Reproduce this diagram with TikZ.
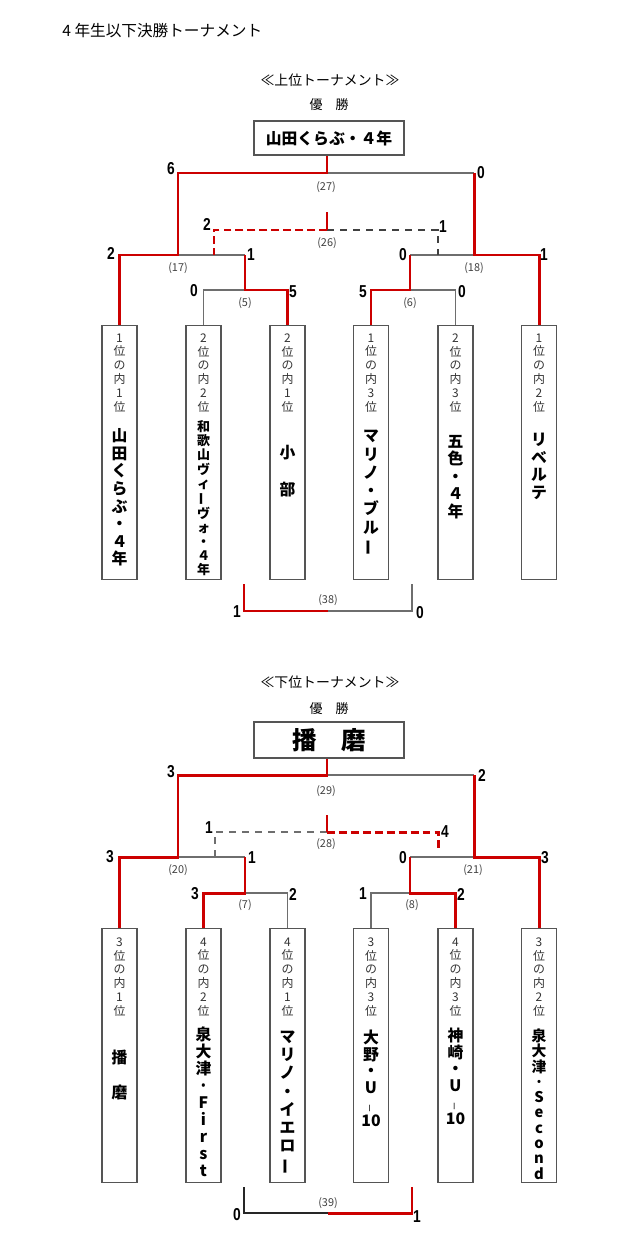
\documentclass[tikz,border=0pt]{standalone}
\usepackage{fontspec}
\usepackage{graphicx}
\setmainfont{Noto Sans CJK JP}
\newfontfamily\scorefont[FakeStretch=0.8]{Liberation Sans}
\definecolor{winred}{RGB}{204,0,0}
\definecolor{losegray}{RGB}{110,110,110}
\definecolor{boxgray}{RGB}{85,85,85}
\def\tatebo{\rotatebox[origin=c]{90}{ー}}
\def\tatehy{\rotatebox[origin=c]{90}{\mdseries\fontsize{4.6}{5}\selectfont ー}}
\tikzset{
  win/.style={draw=winred, line width=1.7pt},
  lose/.style={draw=losegray, line width=0.85pt},
  windash/.style={win, dash pattern=on 4.5pt off 2.3pt},
  losedash/.style={draw=black!75, line width=0.7pt, dash pattern=on 4pt off 3.4pt},
  team/.style={draw=boxgray, line width=0.75pt, minimum width=0.7cm, minimum height=5.08cm, anchor=north, inner sep=0pt},
  champ/.style={draw=boxgray, line width=0.75pt, minimum width=3cm, inner sep=0pt},
  rank/.style={align=center, inner sep=0pt, text=black!80, font=\fontsize{6.8}{7.9}\selectfont},
  tname/.style={align=center, inner sep=0pt, font=\bfseries\fontsize{9}{10}\selectfont},
  score/.style={inner sep=0pt, font=\scorefont\bfseries\fontsize{9.8}{11}\selectfont},
  match/.style={inner sep=0pt, text=black!75, font=\fontsize{6.2}{7}\selectfont},
  head/.style={inner sep=0pt, font=\fontsize{7.9}{9}\selectfont},
}

\begin{document}
\begin{tikzpicture}[x=0.02cm, y=-0.02cm]
		\useasboundingbox (0,0) rectangle (640,1250);
		
		\node[anchor=west, inner sep=0pt, font=\fontsize{8.9}{10}\selectfont] (title) at (62,31) {4 年生以下決勝トーナメント};
		
		%%%%% UPPER %%%%%
		
		\node[head] (uhead) at (330,80) {≪上位トーナメント≫};
		\node[head, font=\fontsize{7.4}{9}\selectfont] (uyusho) at (329,105) {優　勝};
		\node[champ, minimum height=0.68cm, font=\bfseries\fontsize{9}{10}\selectfont] (uwin) at (329,138) {山田くらぶ・４年};
		
		\node[team] (u1) at (119.5,325) {};
		\node[team] (u2) at (203.5,325) {};
		\node[team] (u3) at (287.5,325) {};
		\node[team] (u4) at (371,325) {};
		\node[team] (u5) at (455.5,325) {};
		\node[team] (u6) at (539,325) {};
		
		\node[rank] (u1r) at (119.5,373) {1\\位\\の\\内\\1\\位};
		\node[rank] (u2r) at (203.5,373) {2\\位\\の\\内\\2\\位};
		\node[rank] (u3r) at (287.5,373) {2\\位\\の\\内\\1\\位};
		\node[rank] (u4r) at (371,373) {1\\位\\の\\内\\3\\位};
		\node[rank] (u5r) at (455.5,373) {2\\位\\の\\内\\3\\位};
		\node[rank] (u6r) at (539,373) {1\\位\\の\\内\\2\\位};
		
		\node[tname] (u1n) at (119.5,497.5) {山\\田\\く\\ら\\ぶ\\・\\４\\年};
		\node[tname, font=\bfseries\fontsize{7.4}{8}\selectfont] (u2n) at (203.5,498.5) {和\\歌\\山\\ヴ\\ィ\\\tatebo\\ヴ\\ォ\\・\\４\\年};
		\node[tname, font=\bfseries\fontsize{9}{21}\selectfont] (u3n) at (287.5,471.5) {小\\部};
		\node[tname, font=\bfseries\fontsize{9}{10.4}\selectfont] (u4n) at (371,493) {マ\\リ\\ノ\\・\\ブ\\ル\\\tatebo};
		\node[tname, font=\bfseries\fontsize{9}{9.9}\selectfont] (u5n) at (455.5,477) {五\\色\\・\\４\\年};
		\node[tname] (u6n) at (539,466.5) {リ\\ベ\\ル\\テ};
		
		\coordinate (j5) at (245,290);
		\coordinate (j6) at (410,290);
		\coordinate (j17) at (178,255);
		\coordinate (j18) at (474,255);
		\coordinate (j27) at (327,173);
		\coordinate (t26l) at (214,255);
		\coordinate (t26r) at (438,255);
		\coordinate (c26) at (327,230);
		\coordinate (c26top) at (327,212);
		\coordinate (b38l) at (244,584);
		\coordinate (b38r) at (412,584);
		\coordinate (m38) at (328,611);
		
		\draw[lose] (u2.north) |- (j5);
		\draw[lose] (j5 |- j17) -- (j17);
		\draw[lose] (u5.north) |- (j6);
		\draw[lose] (j6 |- j18) -- (j18);
		\draw[lose] (j27) -- (j18 |- j27);
		\draw[losedash] (c26) -| (t26r);
		\draw[lose] (b38r) |- (m38);
		
		\draw[win] (u1.north) |- (j17) |- (j27) -- (j27 |- uwin.south);
		\draw[win] (u3.north) |- (j5) -- (j5 |- j17);
		\draw[win] (u4.north) |- (j6) -- (j6 |- j18);
		\draw[win] (u6.north) |- (j18) -- (j18 |- j27);
		\draw[windash] (c26) -| (t26l);
		\draw[win] (c26) -- (c26top);
		\draw[win] (b38l) |- (m38);
		
		\node[score] (s27l) at (171,169) {6};
		\node[score] (s27r) at (481,173) {0};
		\node[score] (s26l) at (207,224) {2};
		\node[score] (s26r) at (443,227) {1};
		\node[score] (s17l) at (111,253) {2};
		\node[score] (s17r) at (251,255) {1};
		\node[score] (s18l) at (403,255) {0};
		\node[score] (s18r) at (544,255) {1};
		\node[score] (s5l) at (194,291) {0};
		\node[score] (s5r) at (293,292) {5};
		\node[score] (s6l) at (363,292) {5};
		\node[score] (s6r) at (462,292) {0};
		\node[score] (s38l) at (237,612) {1};
		\node[score] (s38r) at (420,613) {0};
		
		\node[match] (g27) at (326,187) {(27)};
		\node[match] (g26) at (327,243) {(26)};
		\node[match] (g17) at (178,268) {(17)};
		\node[match] (g18) at (474,268) {(18)};
		\node[match] (g5) at (245,303) {(5)};
		\node[match] (g6) at (410,303) {(6)};
		\node[match] (g38) at (328,600) {(38)};
		
		%%%%% LOWER %%%%%
		
		\node[head] (lhead) at (330,682) {≪下位トーナメント≫};
		\node[head, font=\fontsize{7.4}{9}\selectfont] (lyusho) at (329,709) {優　勝};
		\node[champ, minimum height=0.72cm, font=\bfseries\fontsize{14}{16}\selectfont] (lwin) at (329,740) {播　磨};
		
		\node[team] (l1) at (119.5,928) {};
		\node[team] (l2) at (203.5,928) {};
		\node[team] (l3) at (287.5,928) {};
		\node[team] (l4) at (371,928) {};
		\node[team] (l5) at (455.5,928) {};
		\node[team] (l6) at (539,928) {};
		
		\node[rank] (l1r) at (119.5,977) {3\\位\\の\\内\\1\\位};
		\node[rank] (l2r) at (203.5,977) {4\\位\\の\\内\\2\\位};
		\node[rank] (l3r) at (287.5,977) {4\\位\\の\\内\\1\\位};
		\node[rank] (l4r) at (371,977) {3\\位\\の\\内\\3\\位};
		\node[rank] (l5r) at (455.5,977) {4\\位\\の\\内\\3\\位};
		\node[rank] (l6r) at (539,977) {3\\位\\の\\内\\2\\位};
		
		\node[tname, font=\bfseries\fontsize{9}{20.4}\selectfont] (l1n) at (119.5,1075) {播\\磨};
		\node[tname, font=\bfseries\fontsize{9}{9.7}\selectfont] (l2n) at (203.5,1101.5) {泉\\大\\津\\·\\F\\i\\r\\s\\t};
		\node[tname, font=\bfseries\fontsize{9}{10.4}\selectfont] (l3n) at (287.5,1102.5) {マ\\リ\\ノ\\・\\イ\\エ\\ロ\\\tatebo};
		\node[tname, font=\bfseries\fontsize{9}{9.4}\selectfont] (l4n) at (371,1078.5) {大\\野\\・\\U\\\tatehy\\10};
		\node[tname, font=\bfseries\fontsize{9}{9.4}\selectfont] (l5n) at (455.5,1076.5) {神\\崎\\・\\U\\\tatehy\\10};
		\node[tname, font=\bfseries\fontsize{8.4}{8.7}\selectfont] (l6n) at (539,1104) {泉\\大\\津\\·\\S\\e\\c\\o\\n\\d};
		
		\coordinate (j7) at (245,893);
		\coordinate (j8) at (410,893);
		\coordinate (j20) at (178,857);
		\coordinate (j21) at (474,857);
		\coordinate (j29) at (327,775);
		\coordinate (t28l) at (215,857);
		\coordinate (t28r) at (438,850);
		\coordinate (c28) at (327,832);
		\coordinate (c28top) at (327,815);
		\coordinate (b39l) at (244,1187);
		\coordinate (b39r) at (412,1187);
		\coordinate (m39) at (328,1213);
		
		\draw[lose] (l3.north) |- (j7);
		\draw[lose] (j7 |- j20) -- (j20);
		\draw[lose] (l4.north) |- (j8);
		\draw[lose] (j8 |- j21) -- (j21);
		\draw[lose] (j29) -- (j21 |- j29);
		\draw[losedash, draw=losegray] (c28) -| (t28l);
		\draw[lose, draw=black!85] (b39l) |- (m39);
		
		\draw[win] (l1.north) |- (j20) |- (j29) -- (j29 |- lwin.south);
		\draw[win] (l2.north) |- (j7) -- (j7 |- j20);
		\draw[win] (l5.north) |- (j8) -- (j8 |- j21);
		\draw[win] (l6.north) |- (j21) -- (j21 |- j29);
		\draw[windash] (c28) -| (t28r);
		\draw[win] (c28) -- (c28top);
		\draw[win] (b39r) |- (m39);
		
		\node[score] (s29l) at (171,772) {3};
		\node[score] (s29r) at (482,775) {2};
		\node[score] (s28l) at (209,828) {1};
		\node[score] (s28r) at (445,832) {4};
		\node[score] (s20l) at (110,857) {3};
		\node[score] (s20r) at (252,858) {1};
		\node[score] (s21l) at (403,858) {0};
		\node[score] (s21r) at (545,858) {3};
		\node[score] (s7l) at (195,894) {3};
		\node[score] (s7r) at (293,894) {2};
		\node[score] (s8l) at (363,894) {1};
		\node[score] (s8r) at (461,894) {2};
		\node[score] (s39l) at (237,1215) {0};
		\node[score] (s39r) at (417,1217) {1};
		
		\node[match] (g29) at (326,791) {(29)};
		\node[match] (g28) at (326,844) {(28)};
		\node[match] (g20) at (178,870) {(20)};
		\node[match] (g21) at (473,870) {(21)};
		\node[match] (g7) at (245,905) {(7)};
		\node[match] (g8) at (412,905) {(8)};
		\node[match] (g39) at (328,1203) {(39)};
		
	\end{tikzpicture}
\end{document}
